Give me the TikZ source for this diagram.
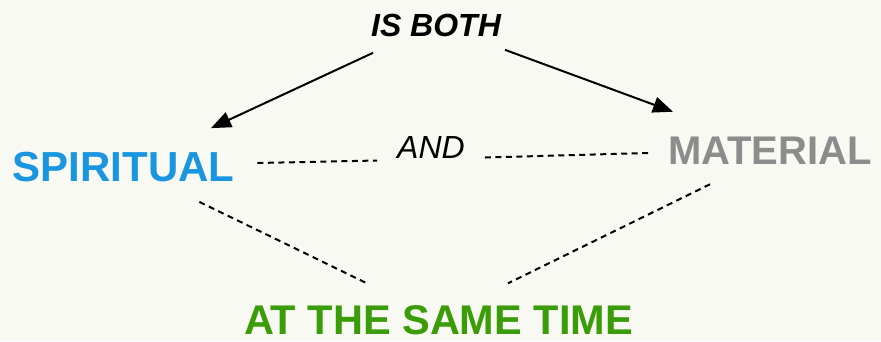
\documentclass[tikz,border=0pt]{standalone}
\usepackage{fontspec}
\setmainfont{Liberation Sans}
\usetikzlibrary{arrows.meta, backgrounds}
\definecolor{spiritblue}{HTML}{1A96E0}
\definecolor{matgray}{HTML}{8C8C8C}
\definecolor{timegreen}{HTML}{3A9C06}
\definecolor{paper}{HTML}{F9F9F4}

\begin{document}
\begin{tikzpicture}[
      x=1pt, y=-1pt,
      every node/.style={inner sep=0pt, outer sep=0pt},
      word/.style={font=\fontsize{#1}{#1}\selectfont\bfseries},
      link/.style={line width=2pt, -{Triangle[length=20pt, width=16pt]}},
      tie/.style={line width=2pt, dash pattern=on 6pt off 4.5pt},
    ]
    \useasboundingbox[fill=paper] (0,0) rectangle (881,341);

    \node[font=\fontsize{32}{32}\selectfont\bfseries\itshape] (both) at (436, 25.5) {IS BOTH};
    \node[font=\fontsize{32}{32}\selectfont\itshape] (and) at (431, 147.5) {AND};
    \node[word=42, text=spiritblue] (spirit) at (123.5, 167) {SPIRITUAL};
    \node[word=40, text=matgray] (mat) at (770, 150.5) {MATERIAL};
    \node[word=41.5, text=timegreen] (time) at (438.5, 320) {AT THE SAME TIME};

    \draw[link] ([xshift=-63pt, yshift=-16pt]both.south) -- ([xshift=87.5pt, yshift=24pt]spirit.north);
    \draw[link] ([xshift=69pt, yshift=-13pt]both.south) -- ([xshift=-97pt, yshift=25pt]mat.north);

    \draw[tie] ([xshift=23pt, yshift=4pt]spirit.east) -- ([xshift=-20pt, yshift=-2pt]and.south west);
    \draw[tie] ([xshift=20pt, yshift=1pt]and.south east) -- ([xshift=-20pt, yshift=-2.5pt]mat.west);
    \draw[tie] ([xshift=-35pt, yshift=-20pt]spirit.south east) -- ([xshift=-69.5pt, yshift=21pt]time.north);
    \draw[tie] ([xshift=-60pt, yshift=-20pt]mat.south) -- ([xshift=69.5pt, yshift=22pt]time.north);
  \end{tikzpicture}
\end{document}
